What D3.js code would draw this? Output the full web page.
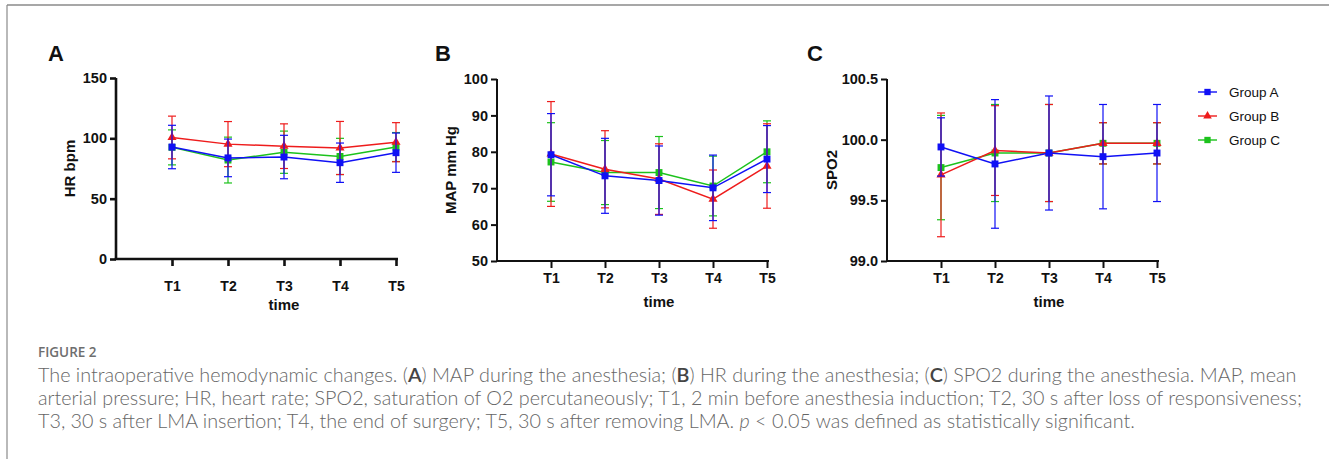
<!DOCTYPE html>
<html><head><meta charset="utf-8">
<script src="https://cdn.jsdelivr.net/npm/d3@7"></script>
<style>
html,body{margin:0;padding:0;background:#fff;}
svg{display:block;}
</style></head>
<body>
<svg id="chart" width="1329" height="459"></svg>
<script>
// ---------- data ----------
const timepoints = ["T1","T2","T3","T4","T5"];
const groups = ["Group A","Group B","Group C"];

// HR (bpm): mean and SD
const hrMeanA = [92.8, 83.8, 84.5, 79.8, 88.1];
const hrSdA   = [18.0, 15.6, 18.0, 16.3, 16.3];
const hrMeanB = [100.7, 95.2, 93.5, 92.0, 96.8];
const hrSdB   = [17.7, 18.7, 18.5, 22.0, 16.2];
const hrMeanC = [92.5, 82.0, 88.5, 85.0, 92.8];
const hrSdC   = [14.5, 19.0, 17.5, 15.0, 12.0];

// MAP (mm Hg)
const mapMeanA = [79.2, 73.4, 72.1, 70.1, 78.0];
const mapSdA   = [11.3, 10.3, 9.5, 9.0, 9.2];
const mapMeanB = [79.4, 75.2, 72.5, 67.0, 76.1];
const mapSdB   = [14.4, 10.6, 9.7, 8.0, 11.6];
const mapMeanC = [77.2, 74.3, 74.3, 70.6, 80.0];
const mapSdC   = [10.8, 8.8, 9.9, 8.2, 8.5];

// SPO2
const spoMeanA = [99.94, 99.80, 99.89, 99.86, 99.89];
const spoSdA   = [0.24, 0.53, 0.47, 0.43, 0.40];
const spoMeanB = [99.71, 99.91, 99.89, 99.97, 99.97];
const spoSdB   = [0.51, 0.37, 0.40, 0.17, 0.17];
const spoMeanC = [99.77, 99.89, 99.89, 99.97, 99.97];
const spoSdC   = [0.43, 0.40, 0.40, 0.17, 0.17];

const hrTicks  = [0, 50, 100, 150];
const mapTicks = [50, 60, 70, 80, 90, 100];
const spoTicks = [99.0, 99.5, 100.0, 100.5];

// ---------- styling ----------
const colors = {"Group A":"#1010f5","Group B":"#ee1c1c","Group C":"#1cc21c"};
const shapes = {"Group A":"square","Group B":"triangle","Group C":"square"};
const drawOrder = ["Group C","Group B","Group A"];

const svg = d3.select("#chart");
const boldFont = "'Liberation Sans', Arial, sans-serif";

// frame
svg.append("line").attr("x1",7).attr("x2",1329).attr("y1",5).attr("y2",5)
  .attr("stroke","#8a8a8a").attr("stroke-width",1.5);
svg.append("line").attr("x1",7).attr("x2",7).attr("y1",5).attr("y2",459)
  .attr("stroke","#8a8a8a").attr("stroke-width",1.2);

const panels = [
  {label:"A", lx:48, yTitle:"HR bpm", titleX:70,
   ax:116, x0:172, x1:396, xEnd:398, yTop:78, yBot:259, domain:[0,150], ticks:hrTicks, fmt:d3.format("d"),
   axisW:2.6, tickPad:15, timeY:310,
   series:{"Group A":[hrMeanA,hrSdA],"Group B":[hrMeanB,hrSdB],"Group C":[hrMeanC,hrSdC]}},
  {label:"B", lx:435, yTitle:"MAP mm Hg", titleX:451,
   ax:497, x0:551, x1:767, xEnd:769, yTop:79, yBot:261, domain:[50,100], ticks:mapTicks, fmt:d3.format("d"),
   axisW:2, tickPad:5, timeY:307,
   series:{"Group A":[mapMeanA,mapSdA],"Group B":[mapMeanB,mapSdB],"Group C":[mapMeanC,mapSdC]}},
  {label:"C", lx:807, yTitle:"SPO2", titleX:832,
   ax:887, x0:941, x1:1157, xEnd:1159, yTop:79, yBot:261, domain:[99.0,100.5], ticks:spoTicks, fmt:d3.format(".1f"),
   axisW:2, tickPad:5, timeY:307,
   series:{"Group A":[spoMeanA,spoSdA],"Group B":[spoMeanB,spoSdB],"Group C":[spoMeanC,spoSdC]}}
];

panels.forEach(p => {
  const g = svg.append("g");
  const x = d3.scalePoint().domain(timepoints).range([p.x0, p.x1]);
  const y = d3.scaleLinear().domain(p.domain).range([p.yBot, p.yTop]);

  // panel letter
  g.append("text").attr("x",p.lx).attr("y",61).text(p.label)
    .attr("font-family",boldFont).attr("font-weight","bold").attr("font-size",22).attr("fill","#111");

  // y axis
  const yAxis = d3.axisLeft(y).tickValues(p.ticks).tickFormat(p.fmt).tickSize(6).tickPadding(3);
  const ya = g.append("g").attr("transform",`translate(${p.ax},0)`).call(yAxis);
  ya.select(".domain").attr("d",`M0,${p.yTop}V${p.yBot}`).attr("stroke","#111").attr("stroke-width",p.axisW);
  ya.selectAll(".tick line").attr("stroke","#111").attr("stroke-width",p.axisW);
  ya.selectAll(".tick text").attr("font-family",boldFont).attr("font-weight","bold").attr("font-size",14.5).attr("fill","#111");

  // x axis
  const xAxis = d3.axisBottom(x).tickSize(7).tickPadding(p.tickPad);
  const xa = g.append("g").attr("transform",`translate(0,${p.yBot})`).call(xAxis);
  xa.select(".domain").attr("d",`M${p.ax - p.axisW/2},0H${p.xEnd}`).attr("stroke","#111").attr("stroke-width",p.axisW);
  xa.selectAll(".tick line").attr("stroke","#111").attr("stroke-width",p.axisW);
  xa.selectAll(".tick text").attr("font-family",boldFont).attr("font-weight","bold").attr("font-size",14).attr("fill","#111");

  // axis titles
  g.append("text").attr("x",(p.x0+p.x1)/2).attr("y",p.timeY).attr("text-anchor","middle")
    .attr("font-family",boldFont).attr("font-weight","bold").attr("font-size",15).attr("fill","#111").text("time");
  g.append("text").attr("transform",`translate(${p.titleX},${(p.yTop+p.yBot)/2}) rotate(-90)`)
    .attr("text-anchor","middle").attr("dy","0.35em")
    .attr("font-family",boldFont).attr("font-weight","bold").attr("font-size",15).attr("fill","#111").text(p.yTitle);

  // series
  drawOrder.forEach(name => {
    const [means, sds] = p.series[name];
    const col = colors[name];
    const pts = timepoints.map((t,i)=>({t, m:means[i], s:sds[i]}));
    const sg = g.append("g");
    // error bars
    pts.forEach(d => {
      const cx = x(d.t);
      sg.append("line").attr("x1",cx).attr("x2",cx).attr("y1",y(d.m+d.s)).attr("y2",y(d.m-d.s))
        .attr("stroke",col).attr("stroke-width",1.2);
      [d.m+d.s, d.m-d.s].forEach(v => {
        sg.append("line").attr("x1",cx-4).attr("x2",cx+4).attr("y1",y(v)).attr("y2",y(v))
          .attr("stroke",col).attr("stroke-width",1.2);
      });
    });
    // line
    sg.append("path").datum(pts)
      .attr("d", d3.line().x(d=>x(d.t)).y(d=>y(d.m)))
      .attr("fill","none").attr("stroke",col).attr("stroke-width",1.5);
    // markers
    const sym = shapes[name]==="square" ? d3.symbolSquare : d3.symbolTriangle;
    const size = shapes[name]==="square" ? 48 : 36;
    sg.selectAll(".pt").data(pts).join("path")
      .attr("transform",d=>`translate(${x(d.t)},${y(d.m)})`)
      .attr("d", d3.symbol().type(sym).size(size)).attr("fill",col);
  });
});

// legend
const legY = [92, 116, 140];
["Group A","Group B","Group C"].forEach((name,i) => {
  const lg = svg.append("g").attr("transform",`translate(1198,${legY[i]})`);
  lg.append("line").attr("x1",0).attr("x2",19).attr("y1",0).attr("y2",0)
    .attr("stroke",colors[name]).attr("stroke-width",1.4);
  const sym = shapes[name]==="square" ? d3.symbolSquare : d3.symbolTriangle;
  lg.append("path").attr("transform","translate(9.5,0)")
    .attr("d", d3.symbol().type(sym).size(shapes[name]==="square"?40:32)).attr("fill",colors[name]);
  lg.append("text").attr("x",31).attr("y",0).attr("dy","0.35em").text(name)
    .attr("font-family","'Liberation Sans', Arial, sans-serif").attr("font-size",13.5).attr("fill","#111");
});

// caption
const capFont = "Lato, 'Open Sans', sans-serif";
svg.append("text").attr("x",38).attr("y",357).text("FIGURE 2")
  .attr("font-family","'Open Sans', sans-serif").attr("font-weight",600).attr("font-size",13.5).attr("fill","#6e6e6e");

const capLines = [
  [["The intraoperative hemodynamic changes. (",0],["A",1],[") MAP during the anesthesia; (",0],["B",1],[") HR during the anesthesia; (",0],["C",1],[") SPO2 during the anesthesia. MAP, mean",0]],
  [["arterial pressure; HR, heart rate; SPO2, saturation of O2 percutaneously; T1, 2 min before anesthesia induction; T2, 30 s after loss of responsiveness;",0]],
  [["T3, 30 s after LMA insertion; T4, the end of surgery; T5, 30 s after removing LMA. ",0],["p",2],[" < 0.05 was defined as statistically significant.",0]]
];
const capY = [382, 405, 428];
const capTarget = 1259;
const capEls = capLines.map((parts,i) => {
  const t = svg.append("text").attr("x",38).attr("y",capY[i])
    .attr("font-family",capFont).attr("font-weight",300).attr("font-size",16).attr("fill","#666");
  parts.forEach(([s,k]) => {
    const ts = t.append("tspan").text(s);
    if (k===1) ts.attr("font-weight",600).attr("fill","#444");
    if (k===2) ts.attr("font-style","italic");
  });
  return t;
});
const w0 = capEls[0].node().getComputedTextLength();
const fs = 16 * capTarget / w0;
capEls.forEach(t => t.attr("font-size", fs));
</script>
</body></html>
